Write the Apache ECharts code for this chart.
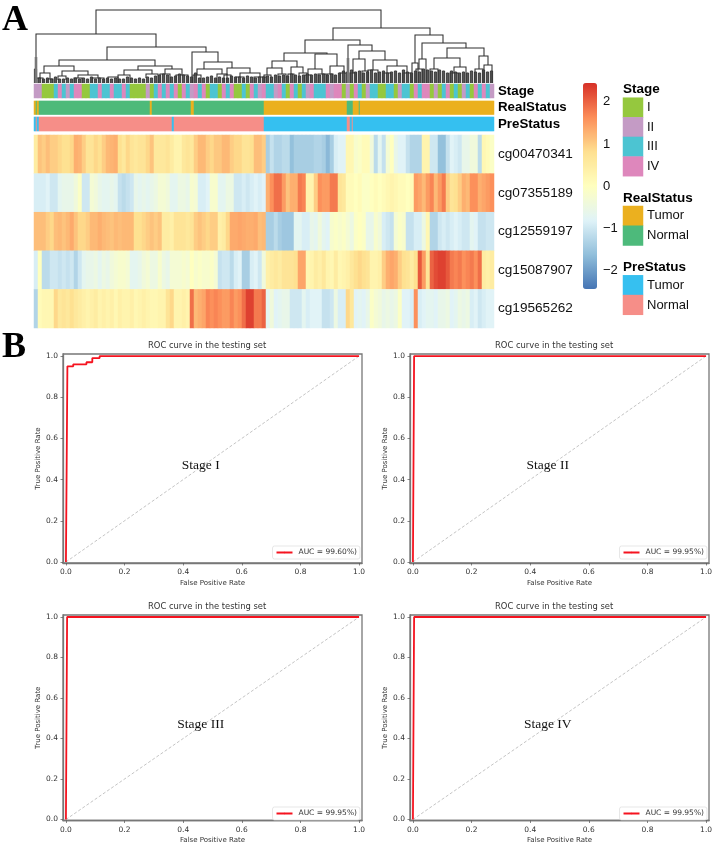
<!DOCTYPE html>
<html><head><meta charset="utf-8">
<style>html,body{margin:0;padding:0;background:#fff}#c{width:720px;height:845px}</style>
<script src="https://cdn.jsdelivr.net/npm/echarts@6/dist/echarts.min.js"></script>
</head><body><div id="c"></div>
<script>
const probes = ['cg00470341','cg07355189','cg12559197','cg15087907','cg19565262'];
const cg00470341 = [0.5,1.1,1.0,1.15,1.0,1.0,0.9,0.8,0.8,0.9, 1.3,1.25,1.0,0.7,0.7,0.9,0.8,1.0,1.2,1.25, 1.3,0.8,0.6,0.9,0.7,0.6,0.7,0.7,0.9,1.1, 0.6,0.6,0.6,0.7,0.5,0.3,0.3,0.6,0.7,0.6, 1.0,1.2,1.2,1.0,0.9,1.05,1.05,1.2,1.2,1.0, 0.9,0.9,0.7,0.7,0.8,1.15,1.15,
 1.0,-1.4,-1.1,-1.3,-1.3,-1.2,-1.2,-1.6,-1.4,-1.4, -1.4,-1.4,-1.4,-1.3,-1.3,-1.4,-1.7,-1.4,-0.9,-0.8, -0.8,0.2,0.2,-0.2,-0.1,0.1,0.1,-0.4,-1.2,-0.7, -1.1,-0.3,0,-0.6,-0.8,-0.8,-1.1,-1.3,-1.3,-1.3, 0.3,0.3,-1,-1,-1.6,-1.6,-1.1,-0.8,-0.9,-1, -0.6,-0.6,-0.4,-0.4,-1.2,0.2,0.1,-0.1];
const cg07355189 = [-0.9,-0.9,-0.9,-0.8,-1,-1,-0.7,-0.6,-0.6,-0.6, -0.4,-0.1,-1,-1,-0.3,-0.4,-0.6,-0.7,-0.7,-0.6, -0.7,-1.1,-1.2,-1.1,-1,-0.6,-0.7,-0.6,-0.7,-0.6, -0.5,-0.3,-0.3,-0.4,-0.7,-0.7,-0.5,-0.5,-0.6,-0.2, -0.3,-0.9,-0.9,-0.8,-0.2,-0.2,-0.7,-0.7,-0.5,-0.5, -1,-1,-0.9,-1,-0.9,-0.8,-0.9,
 -0.8,1.3,1.6,1.9,1.9,1.5,1.1,1.3,1.3,1.8, 1.7,0.3,0.3,1.0,1.6,1.5,1.5,1.8,1.8,0.7, 0.6,0.1,0.1,0,0.1,-0.1,-0.1,0,0.1,0, 0.1,0.2,0.3,0.2,0.1,0.1,0,0.1,1.5,1.4, 1.2,1.5,1.7,1.2,1.5,1.8,1.0,0.7,0.8,1, 1.3,1.2,1.6,1.6,1.3,1.4,1.5,1.6];
const cg12559197 = [1.15,1.15,1.15,1.0,0.9,1.15,1.2,1.1,1.2,1.35, 1.1,0.9,0.9,1.0,1.2,1.2,1.3,1.2,1.15,1.1, 1.2,1.15,1.2,1.2,1.2,0.8,0.8,0.9,1.0,1.1, 1.0,1.1,0.5,0.5,0.4,0.7,0.7,0.7,0.6,0.7, 1.0,1.1,1.0,0.9,1.0,1.0,0.4,0.5,0.9,1.35, 1.35,1.4,1.35,1.3,1.3,1.35,1.15,
 1.2,-1.4,-1.4,-1.2,-1.4,-1.5,-1.5,-1.5,-0.7,-0.7, -0.9,-0.9,-0.6,-0.7,-0.4,-0.7,-0.8,-0.2,-0.1,-0.2, -0.1,-0.3,-0.5,-0.1,0,-0.1,-0.6,-0.6,-0.2,-0.4, -0.9,-1.0,-1.1,-0.3,-0.1,-0.2,-1.1,-1.1,-0.9,-0.9, -0.5,0.2,-1.3,-1.3,-1.0,-0.9,-1.0,-0.9,-0.8,-0.9, -1,-1,-0.7,-0.8,-1.1,-1.1,-1,-1];
const cg15087907 = [-0.9,0,-1.2,-1.2,-1,-1,-1.1,-1,-1.1,-1, -1.3,-1.0,-0.7,-0.6,-0.6,-0.5,-0.7,-0.5,-0.6,-0.4, -0.3,-0.2,-0.2,-0.3,-0.7,-0.7,-0.6,-0.4,-0.3,-0.5, -0.5,-0.2,-0.5,-0.6,-0.3,-0.3,-0.3,-0.2,-0.3,0, -0.2,-0.1,-0.2,-0.2,-0.1,-0.3,-1.1,-1,-1,-1.2, -0.9,-0.8,-1.4,-1.4,-0.9,-0.8,-1.0,
 -0.4,0.4,0.5,0.6,0.5,0.7,0.7,0.7,0.8,1.4, 1.4,0.2,0.3,0.5,0.4,0.6,0.3,0.2,0.5,0.2, 0.3,0.4,0.6,0.8,0.9,0.8,0.7,0.3,0.3,0.4, 1.0,1.3,1.4,1.3,1.0,0.8,0.7,0.5,0.8,2.1, 1.5,0.7,2.0,2.2,2.3,2.3,2.1,1.8,1.7,1.8, 1.6,1.7,1.8,1.6,1.9,0.5,0.4,0.5];
const cg19565262 = [-1.3,0.1,0.2,0.2,0.2,0.9,0.6,0.7,0.6,0.8, 0.6,0.5,0.4,0.3,0.4,0.5,0.3,0.4,0.3,0.4, 0.2,0.4,0.3,0.3,0.4,0.2,0.3,0.4,0.3,0.2, 0.2,0.3,0.3,0.7,0.9,0.3,0.3,0.4,0.3,1.9, 1.2,1.3,1.4,1.7,1.6,1.7,1.6,1.5,1.5,1.7, 1.5,1.6,1.9,2.3,2.3,1.8,1.8,
 2.0,-0.7,-0.4,-0.8,-0.7,-0.6,-0.6,-1,-1,-1, -0.7,-0.9,-0.8,-0.8,-0.8,-1.1,-1.1,-1,-0.5,-0.9, -0.9,0.9,0.6,-0.8,-0.7,-0.8,-0.6,-0.1,-0.3,-0.4, -0.6,-0.5,-0.6,-0.5,-0.1,-0.8,-0.8,-0.9,1.6,-0.9, -0.8,-0.7,-0.7,-0.8,-0.6,-0.6,-0.5,-0.8,-0.7,-0.5, -0.6,-0.5,-0.9,-0.8,-1,-0.9,-0.8,-0.8];
const heatRows = [cg00470341,cg07355189,cg12559197,cg15087907,cg19565262];
const heatPalette = ['#4575B4','#91BFDB','#E0F3F8','#FFFFBF','#FEE090','#FC8D59','#D73027'];
const colorbarTicks = [-2,-1,0,1,2];

const stageNames = ['I','II','III','IV'];
const stageColors = ['#95C83E','#C49BC5','#4CC4D2','#DE87BC'];
const stageTrack = ['II','II','I','I','I','III','IV','III','II','III','IV','IV','I','I','III','III','IV','III','III','IV','III','III','IV','III','I','I','I','I','II','I','III','IV','III','IV','III','IV','I','IV','III','II','IV','III','IV','I','III','III','I','IV','III','IV','I','I','III','I','IV','III','II',
 'IV','III','III','II','IV','III','I','IV','III','I','III','II','IV','III','III','III','IV','II','IV','IV','I','II','I','IV','III','I','II','III','III','I','I','III','III','I','II','III','III','I','IV','III','IV','IV','I','II','I','III','IV','I','III','I','II','III','I','IV','III','IV','III','II'];
const statusNames = ['Tumor','Normal'];
const realColors = ['#EBB01F','#4DBA7B'];
const preColors = ['#36C0F0','#F68E88'];
const realRuns = [['Tumor',2],['Normal',1],['Tumor',2],['Normal',111],['Tumor',2],['Normal',39],['Tumor',3],['Normal',70],['Tumor',83],['Normal',6],['Tumor',6],['Normal',1],['Tumor',134]];
const preRuns = [['Tumor',2],['Normal',1],['Tumor',2],['Normal',133],['Tumor',2],['Normal',90],['Tumor',83],['Normal',3],['Tumor',2],['Normal',1],['Tumor',141]];

// dendrogram merges: left x, right x, merge height, left child height, right child height
const dendroLinks = [
[62,347,73,49,55],[2,122,49,0,36],[73,172,36,23,31],[25,121,23,17,17],[10,40,17,10,12],[6,16,10,5,4],[28,54,12,7,8],[3,9,5,0,0],[13,19,4,0,0],[24,32,7,3,3],[44,64,8,5,5],[40,48,5,0,0],[58,70,5,0,0],[104,138,17,13,14],[90,118,13,8,9],[131,148,14,9,8],[84,96,8,0,0],[112,124,9,5,0],[126,136,9,0,0],[142,154,8,0,0],[74,84,6,0,0],
[158,184,31,0,21],[170,198,21,14,15],[163,188,14,8,9],[159,167,8,0,0],[183,193,9,0,0],[193,216,15,8,10],[190,197,8,0,0],[206,226,10,6,6],[202,210,6,0,0],[220,232,6,0,0],
[299,396,55,43,48],[271,326,43,30,38],[250,293,30,22,29],[238,263,22,15,16],[233,248,15,8,9],[257,269,16,9,10],[230,237,8,0,0],[244,252,9,0,0],[254,260,9,0,0],[265,273,10,0,0],[281,303,29,14,17],[274,288,14,8,9],[296,310,17,9,10],[271,277,8,0,0],[284,292,9,0,0],[293,299,9,0,0],[306,312,10,0,0],
[314,338,38,0,32],[325,351,32,24,23],[319,331,24,10,12],[316,322,10,0,0],[328,334,12,0,0],[339,363,23,13,17],[334,344,13,0,0],[353,373,17,10,10],[349,357,10,0,0],[369,377,10,0,0],
[381,409,48,20,40],[378,384,20,0,0],[388,432,40,24,35],[385,392,24,14,0],[382,388,14,0,0],[413,450,35,25,27],[400,426,25,14,16],[396,404,14,0,0],[420,432,16,10,0],[416,424,10,0,0],[445,454,27,14,18],[441,449,14,0,0],[450,458,18,0,0]];
// small clusters at the foot of the tree, one for each 4-unit step along x
const dendroTufts = [14,5,4,5,4,6,4,4,5,4, 5,4,5,4,6,4,5,4,5,4, 5,4,4,6,5,4,5,4,6,5, 7,8,9,8,6,7,9,8,7,6, 10,5,5,6,7,5,6,5,5,7, 6,6,5,7,6,5,6,
 6,7,6,8,7,8,7,9,8,7, 8,9,8,9,8,9,8,9,8,10, 12,11,13,11,12,10,11,13,10,11, 12,10,11,12,10,13,11,10,12,11, 14,13,12,11,13,12,10,12,11,10, 11,10,12,11,10,13,11,12];
// grey over-plotted stems: x, top height, bottom height
const dendroBlocks = [[2,26,0],[314,25,0]];

const rocTitle = 'ROC curve in the testing set';
const rocTicks = [0,0.2,0.4,0.6,0.8,1];
const rocNames = ['AUC = 99.60%)','AUC = 99.95%)','AUC = 99.95%)','AUC = 99.95%)'];
const rocStages = ['Stage I','Stage II','Stage III','Stage IV'];
const rocFpr = [[0,0.005,0.005,0.025,0.025,0.07,0.07,0.09,0.09,0.115,0.115,1],[0,0.004,0.004,1],[0,0.004,0.004,1],[0,0.004,0.004,1]];
const rocTpr = [[0,0,0.95,0.95,0.96,0.96,0.97,0.97,0.99,0.99,1,1],[0,0,1,1],[0,0,1,1],[0,0,1,1]];

const grids=[],xAxes=[],yAxes=[],series=[],graphics=[],legends=[];
function hidden(type,extra){return Object.assign({type,show:false},extra||{});}
function cats(n){return Array.from({length:n},(_,i)=>String(i));}
function addHeat(box,nx,ylabels,data,labelStyle){
  const gi=grids.length;
  grids.push(Object.assign({containLabel:false},box));
  xAxes.push(hidden('category',{gridIndex:gi,data:cats(nx)}));
  yAxes.push({type:'category',gridIndex:gi,inverse:true,data:ylabels,position:'right',
    axisLine:{show:false},axisTick:{show:false},splitLine:{show:false},
    axisLabel:Object.assign({margin:4,color:'#111',fontFamily:'Liberation Sans',interval:0,padding:[2,0,0,0]},labelStyle||{})});
  series.push({type:'heatmap',xAxisIndex:gi,yAxisIndex:gi,data,silent:true,progressive:0,emphasis:{disabled:true}});
}
function expand(runs){const o=[];runs.forEach(r=>{for(let i=0;i<r[1];i++)o.push(r[0]);});return o;}
function swatch(v,c,x,y){return {value:[x,y,v],itemStyle:{color:c}};}

// main heat map (series 0)
const heatData=[];
heatRows.forEach((row,r)=>row.forEach((v,c)=>heatData.push([c,r,v])));
addHeat({left:34,top:135,width:460,height:193},cg00470341.length,probes,heatData,{fontSize:13.6});

// annotation tracks
const bold={fontSize:13.3,fontWeight:'bold',color:'#000'};
addHeat({left:34,top:84,width:460,height:14},stageTrack.length,['Stage'],
  stageTrack.map((s,i)=>swatch(1,stageColors[stageNames.indexOf(s)],i,0)),bold);
addHeat({left:34,top:101,width:460,height:13.5},460,['RealStatus'],
  expand(realRuns).map((s,i)=>swatch(1,realColors[statusNames.indexOf(s)],i,0)),bold);
addHeat({left:34,top:117,width:460,height:14},460,['PreStatus'],
  expand(preRuns).map((s,i)=>swatch(1,preColors[statusNames.indexOf(s)],i,0)),bold);

// legend blocks
function block(top,h,names,colors){
  addHeat({left:623,top,width:20,height:h},1,names,names.map((n,i)=>swatch(1,colors[i],0,i)),{fontSize:13,margin:4,color:'#111'});
}
block(97.7,78.5,stageNames,stageColors);
block(206,39.5,statusNames,realColors);
block(275.3,39.5,statusNames,preColors);
[['Stage',90],['RealStatus',199],['PreStatus',268]].forEach(t=>graphics.push({type:'text',left:623,top:t[1]-8,style:{text:t[0],font:'bold 13.5px "Liberation Sans"',fill:'#000'}}));

// colour bar axis
{const gi=grids.length;
 grids.push({left:583,top:83,width:14,height:206});
 xAxes.push(hidden('value',{gridIndex:gi,min:0,max:1}));
 yAxes.push({type:'value',gridIndex:gi,position:'right',min:-2.45,max:2.45,axisLine:{show:false},axisTick:{show:false},splitLine:{show:false},
   axisLabel:{customValues:colorbarTicks,margin:6,fontSize:13,color:'#111',fontFamily:'Liberation Sans',padding:[2,0,0,0],formatter:v=>String(v).replace('-','\u2212')}});
 series.push({type:'scatter',xAxisIndex:gi,yAxisIndex:gi,data:[],silent:true});
}

// dendrogram
{const gi=grids.length;
 grids.push({left:34,top:10,width:460,height:73});
 xAxes.push(hidden('value',{gridIndex:gi,min:0,max:460}));
 yAxes.push(hidden('value',{gridIndex:gi,min:0,max:73}));
 series.push({type:'custom',xAxisIndex:gi,yAxisIndex:gi,silent:true,clip:false,data:dendroLinks,
   encode:{x:[0,1],y:[2,3,4]},
   renderItem:(p,api)=>{
     const a=api.coord([api.value(0),api.value(3)]),b=api.coord([api.value(0),api.value(2)]),
           c=api.coord([api.value(1),api.value(2)]),d=api.coord([api.value(1),api.value(4)]);
     return {type:'polyline',shape:{points:[a,b,c,d]},style:{stroke:'#2f2f2f',lineWidth:1.05,fill:null}};
   }});
 // foot clusters: a bracket with a centre stem reaching the tuft height, column index on x
 series.push({type:'custom',xAxisIndex:gi,yAxisIndex:gi,silent:true,clip:false,
   data:dendroTufts.map((h,i)=>[i*4,h]),encode:{x:0,y:1},
   renderItem:(p,api)=>{
     const x=api.value(0),h=api.value(1);
     const pts=[api.coord([x+0.4,0]),api.coord([x+0.4,h]),api.coord([x+2.6,h]),api.coord([x+2.6,0])];
     const s0=api.coord([x+1.5,h]),s1=api.coord([x+1.5,0]);
     return {type:'group',children:[
       {type:'polyline',shape:{points:pts},style:{stroke:'#333',lineWidth:1,fill:null}},
       {type:'line',shape:{x1:s0[0],y1:s0[1],x2:s1[0],y2:s1[1]},style:{stroke:'#444',lineWidth:0.9}}]};
   }});
 series.push({type:'custom',xAxisIndex:gi,yAxisIndex:gi,silent:true,clip:false,data:dendroBlocks,
   encode:{x:0,y:[1,2]},
   renderItem:(p,api)=>{
     const a=api.coord([api.value(0),api.value(1)]),b=api.coord([api.value(0),api.value(2)]);
     return {type:'line',shape:{x1:a[0],y1:a[1],x2:b[0],y2:b[1]},style:{stroke:'#777',lineWidth:2.6}};
   }});
}

// ROC panels
const panels=[{l:63,t:354},{l:410,t:354},{l:63,t:615},{l:410,t:615}];
const W=299,H=209;
const dv='DejaVu Sans';
panels.forEach((p,k)=>{
  const gi=grids.length;
  grids.push({left:p.l,top:p.t,width:W,height:H,show:true,borderColor:'#777',borderWidth:1.3,backgroundColor:'transparent'});
  const common={gridIndex:gi,splitLine:{show:false},
    axisLine:{show:true,onZero:false,lineStyle:{color:'#777',width:1.3}},
    axisTick:{show:true,customValues:rocTicks,length:2.5,lineStyle:{color:'#555',width:0.7}},
    axisLabel:{customValues:rocTicks,fontSize:7.5,color:'#333',fontFamily:dv,formatter:v=>v.toFixed(1)},
    nameLocation:'middle',nameTextStyle:{fontSize:7,color:'#333',fontFamily:dv}};
  xAxes.push(Object.assign({},common,{type:'value',min:-0.01,max:1.01,name:'False Positive Rate',nameGap:16.5,axisLabel:Object.assign({},common.axisLabel,{margin:5.5})}));
  yAxes.push(Object.assign({},common,{type:'value',min:-0.005,max:1.01,name:'True Positive Rate',nameGap:21,position:'left',axisLabel:Object.assign({},common.axisLabel,{margin:5})}));
  graphics.push({type:'text',left:p.l+W/2-64.5,top:p.t-12,style:{text:rocTitle,font:'8.4px "DejaVu Sans"',fill:'#333'}});
  series.push({type:'line',xAxisIndex:gi,yAxisIndex:gi,silent:true,showSymbol:false,data:[[0,0],[1,1]],
    lineStyle:{color:'#aaa',width:0.7,type:[3,2]},z:2,
    markPoint:{silent:true,symbol:'circle',symbolSize:0,
      data:[{coord:[0.46,0.47],value:rocStages[k],label:{show:true,position:'inside',formatter:rocStages[k],fontFamily:'Liberation Serif',fontSize:13.5,color:'#111'}}]}});
  series.push({type:'line',name:rocNames[k],xAxisIndex:gi,yAxisIndex:gi,silent:true,showSymbol:false,symbol:'none',clip:false,
    data:rocFpr[k].map((x,i)=>[x,rocTpr[k][i]]),lineStyle:{color:'#F5131F',width:1.8},itemStyle:{color:'#F5131F'},z:3});
  legends.push({data:[rocNames[k]],left:p.l+W-89.5,top:p.t+H-17,itemWidth:16,itemHeight:2,itemGap:4,padding:[2.5,3,2.5,3],
    selectedMode:false,backgroundColor:'#fff',borderColor:'#ddd',borderWidth:0.7,borderRadius:2,
    textStyle:{fontSize:7.5,color:'#333',fontFamily:dv,padding:[0,0,0,1]}});
});

// panel letters
[['A',2,3],['B',2,330]].forEach(t=>graphics.push({type:'text',left:t[1],top:t[2],style:{text:t[0],font:'bold 36px "Liberation Serif"',fill:'#000'}}));

const chart=echarts.init(document.getElementById('c'),null,{renderer:'canvas'});
chart.setOption({animation:false,backgroundColor:'#fff',tooltip:{show:false},
  grid:grids,xAxis:xAxes,yAxis:yAxes,series,legend:legends,graphic:graphics,
  visualMap:{type:'continuous',seriesIndex:0,min:-2.45,max:2.45,left:583,top:83,itemWidth:14,itemHeight:206,padding:0,
    calculable:false,hoverLink:false,realtime:false,text:null,showLabel:false,inRange:{color:heatPalette},textStyle:{fontSize:0}}});
</script></body></html>
